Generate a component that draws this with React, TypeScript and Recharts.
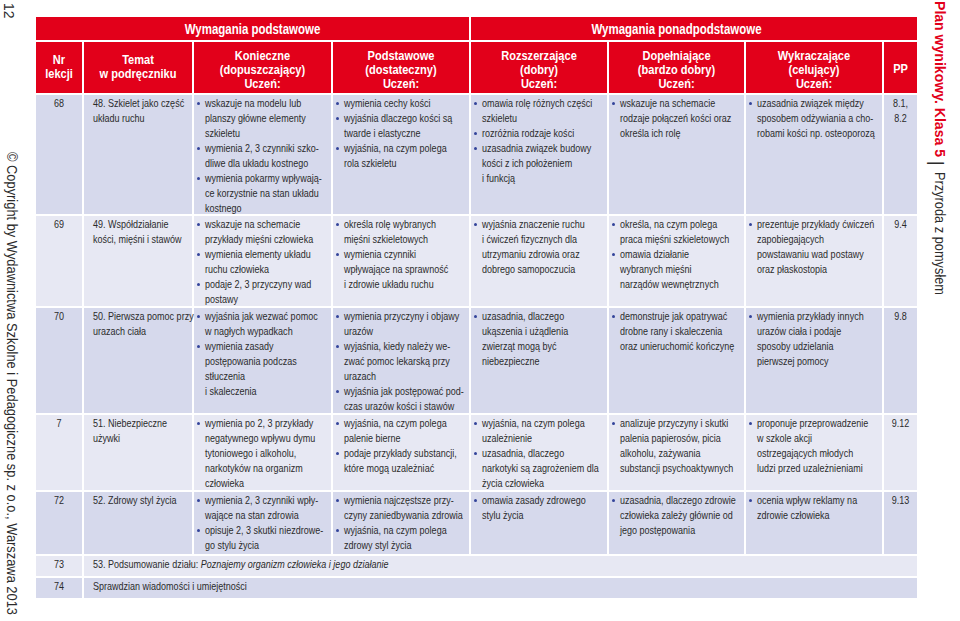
import React from "react";
import { ComposedChart, XAxis, YAxis, Scatter, ReferenceArea } from "recharts";

// ---- table content ----
const groupHeaders = ["Wymagania podstawowe", "Wymagania ponadpodstawowe"];
const columnHeaders = [
  ["Nr", "lekcji"],
  ["Temat", "w podręczniku"],
  ["Konieczne", "(dopuszczający)", "Uczeń:"],
  ["Podstawowe", "(dostateczny)", "Uczeń:"],
  ["Rozszerzające", "(dobry)", "Uczeń:"],
  ["Dopełniające", "(bardzo dobry)", "Uczeń:"],
  ["Wykraczające", "(celujący)", "Uczeń:"],
  ["PP"],
];
const lessonNumbers = ["68", "69", "70", "7", "72"];
const topics = [
  "48. Szkielet jako część\nukładu ruchu",
  "49. Współdziałanie\nkości, mięśni i stawów",
  "50. Pierwsza pomoc przy\nurazach ciała",
  "51. Niebezpieczne\nużywki",
  "52. Zdrowy styl życia",
];
const konieczne = [
  ["wskazuje na modelu lub\nplanszy główne elementy\nszkieletu", "wymienia 2, 3 czynniki szko-\ndliwe dla układu kostnego", "wymienia pokarmy wpływają-\nce korzystnie na stan układu\nkostnego"],
  ["wskazuje na schemacie\nprzykłady mięśni człowieka", "wymienia elementy układu\nruchu człowieka", "podaje 2, 3 przyczyny wad\npostawy"],
  ["wyjaśnia jak wezwać pomoc\nw nagłych wypadkach", "wymienia zasady\npostępowania podczas\nstłuczenia\ni skaleczenia"],
  ["wymienia po 2, 3 przykłady\nnegatywnego wpływu dymu\ntytoniowego i alkoholu,\nnarkotyków na organizm\nczłowieka"],
  ["wymienia 2, 3 czynniki wpły-\nwające na stan zdrowia", "opisuje 2, 3 skutki niezdrowe-\ngo stylu życia"],
];
const podstawowe = [
  ["wymienia cechy kości", "wyjaśnia dlaczego kości są\ntwarde i elastyczne", "wyjaśnia, na czym polega\nrola szkieletu"],
  ["określa rolę wybranych\nmięśni szkieletowych", "wymienia czynniki\nwpływające na sprawność\ni zdrowie układu ruchu"],
  ["wymienia przyczyny i objawy\nurazów", "wyjaśnia, kiedy należy we-\nzwać pomoc lekarską przy\nurazach", "wyjaśnia jak postępować pod-\nczas urazów kości i stawów"],
  ["wyjaśnia, na czym polega\npalenie bierne", "podaje przykłady substancji,\nktóre mogą uzależniać"],
  ["wymienia najczęstsze przy-\nczyny zaniedbywania zdrowia", "wyjaśnia, na czym polega\nzdrowy styl życia"],
];
const rozszerzajace = [
  ["omawia rolę różnych części\nszkieletu", "rozróżnia rodzaje kości", "uzasadnia związek budowy\nkości z ich położeniem\ni funkcją"],
  ["wyjaśnia znaczenie ruchu\ni ćwiczeń fizycznych dla\nutrzymaniu zdrowia oraz\ndobrego samopoczucia"],
  ["uzasadnia, dlaczego\nukąszenia i użądlenia\nzwierząt mogą być\nniebezpieczne"],
  ["wyjaśnia, na czym polega\nuzależnienie", "uzasadnia, dlaczego\nnarkotyki są zagrożeniem dla\nżycia człowieka"],
  ["omawia zasady zdrowego\nstylu życia"],
];
const dopelniajace = [
  ["wskazuje na schemacie\nrodzaje połączeń kości oraz\nokreśla ich rolę"],
  ["określa, na czym polega\npraca mięśni szkieletowych", "omawia działanie\nwybranych mięśni\nnarządów wewnętrznych"],
  ["demonstruje jak opatrywać\ndrobne rany i skaleczenia\noraz unieruchomić kończynę"],
  ["analizuje przyczyny i skutki\npalenia papierosów, picia\nalkoholu, zażywania\nsubstancji psychoaktywnych"],
  ["uzasadnia, dlaczego zdrowie\nczłowieka zależy głównie od\njego postępowania"],
];
const wykraczajace = [
  ["uzasadnia związek między\nsposobem odżywiania a cho-\nrobami kości np. osteoporozą"],
  ["prezentuje przykłady ćwiczeń\nzapobiegających\npowstawaniu wad postawy\noraz płaskostopia"],
  ["wymienia przykłady innych\nurazów ciała i podaje\nsposoby udzielania\npierwszej pomocy"],
  ["proponuje przeprowadzenie\nw szkole akcji\nostrzegających młodych\nludzi przed uzależnieniami"],
  ["ocenia wpływ reklamy na\nzdrowie człowieka"],
];
const ppCodes = ["8.1,\n8.2", "9.4", "9.8", "9.12", "9.13"];
const summaryNumbers = ["73", "74"];
const summaryTexts = ["53. Podsumowanie działu: ", "Sprawdzian wiadomości i umiejętności"];
const summaryItalics = ["Poznajemy organizm człowieka i jego działanie", ""];
const pageNumber = "12";
const copyright = "© Copyright by Wydawnictwa Szkolne i Pedagogiczne sp. z o.o., Warszawa 2013";
const runningTitle = "Plan wynikowy. Klasa 5";
const runningSubtitle = "Przyroda z pomysłem";

// ---- layout (page pixels) ----
const W = 960;
const H = 621;
const COLS = [35, 83, 193, 332, 470, 608, 745, 883, 918];
const HEAD = [16, 41, 94];
const ROWS = [94, 215, 307, 414, 491, 555, 577, 599];
const RED = "#e2001a";
const ROW_FILL = ["#d6d9ec", "#e7e8f3"];
const INK = "#2b2b2b";
const BULLET = "#33449a";
const FONT = "'Liberation Sans', Arial, Helvetica, sans-serif";
const SQUEEZE = 0.82;

type Item = {
  x: number; y: number; lines: string[]; bullets?: boolean[];
  anchor?: "start" | "middle"; size?: number; weight?: string | number; fill?: string;
  lh?: number; squeeze?: number; italic?: string; rotate?: boolean; fit?: number;
};

type Box = { x1: number; x2: number; y1: number; y2: number; fill: string };

const bulletLines = (list: string[]) => {
  const lines: string[] = [];
  const bullets: boolean[] = [];
  list.forEach((s) => s.split("\n").forEach((l, j) => { lines.push(l); bullets.push(j === 0); }));
  return { lines, bullets };
};

const boxes: Box[] = [];
const items: Item[] = [];

// header
boxes.push({ x1: COLS[0], x2: COLS[4], y1: HEAD[0], y2: HEAD[1], fill: RED });
boxes.push({ x1: COLS[4], x2: COLS[8], y1: HEAD[0], y2: HEAD[1], fill: RED });
items.push({ x: (COLS[0] + COLS[4]) / 2, y: 34, lines: [groupHeaders[0]], anchor: "middle", size: 14, weight: "bold", fill: "#fff" });
items.push({ x: (COLS[4] + COLS[7]) / 2, y: 34, lines: [groupHeaders[1]], anchor: "middle", size: 14, weight: "bold", fill: "#fff" });
columnHeaders.forEach((h, c) => {
  boxes.push({ x1: COLS[c], x2: COLS[c + 1], y1: HEAD[1], y2: HEAD[2], fill: RED });
  const y0 = h.length === 3 ? 60 : h.length === 2 ? 64 : 73;
  items.push({ x: (COLS[c] + COLS[c + 1]) / 2, y: y0, lines: h, anchor: "middle", size: 13.5, lh: 14, weight: "bold", fill: "#fff" });
});

// lesson rows
const columnsText = [konieczne, podstawowe, rozszerzajace, dopelniajace, wykraczajace];
lessonNumbers.forEach((nr, r) => {
  const fill = ROW_FILL[r % 2];
  for (let c = 0; c < 8; c++) boxes.push({ x1: COLS[c], x2: COLS[c + 1], y1: ROWS[r], y2: ROWS[r + 1], fill });
  const y = ROWS[r] + 13;
  items.push({ x: (COLS[0] + COLS[1]) / 2, y, lines: [nr], anchor: "middle" });
  items.push({ x: COLS[1] + 10, y, lines: topics[r].split("\n") });
  columnsText.forEach((col, k) => {
    const { lines, bullets } = bulletLines(col[r]);
    items.push({ x: COLS[k + 2] + 12, y, lines, bullets });
  });
  items.push({ x: (COLS[7] + COLS[8]) / 2, y, lines: ppCodes[r].split("\n"), anchor: "middle" });
});

// summary rows
summaryNumbers.forEach((nr, i) => {
  const r = lessonNumbers.length + i;
  const fill = ROW_FILL[r % 2];
  boxes.push({ x1: COLS[0], x2: COLS[1], y1: ROWS[r], y2: ROWS[r + 1], fill });
  boxes.push({ x1: COLS[1], x2: COLS[8], y1: ROWS[r], y2: ROWS[r + 1], fill });
  const y = ROWS[r] + 13;
  items.push({ x: (COLS[0] + COLS[1]) / 2, y, lines: [nr], anchor: "middle" });
  items.push({ x: COLS[1] + 10, y, lines: [summaryTexts[i]], italic: summaryItalics[i] });
});

// margin texts
items.push({ x: 4, y: 3, lines: [pageNumber], rotate: true, size: 14, fill: INK });
items.push({ x: 7, y: 152, lines: [copyright], rotate: true, size: 14, fill: INK, fit: 463 });
items.push({ x: 935, y: 1, lines: [runningTitle], rotate: true, size: 14.5, weight: "bold", fill: RED, fit: 156 });
items.push({ x: 931, y: 161, lines: ["|"], rotate: true, size: 18, fill: INK });
items.push({ x: 935, y: 172, lines: [runningSubtitle], rotate: true, size: 14, fill: INK, fit: 123 });

const drawItem = (props: any) => {
  const { cx, cy, payload } = props;
  const it = payload as Item;
  const size = it.size ?? 11;
  const lh = it.lh ?? 15;
  const sq = it.squeeze ?? SQUEEZE;
  const fill = it.fill ?? INK;
  if (it.rotate) {
    return (
      <text
        transform={`translate(${cx},${cy}) rotate(90)`}
        fontFamily={FONT} fontSize={size} fontWeight={it.weight} fill={fill}
        textLength={it.fit} lengthAdjust={it.fit ? "spacingAndGlyphs" : undefined}
      >
        {it.lines[0]}
      </text>
    );
  }
  return (
    <g>
      {it.lines.map((ln, i) => (
        <g key={i} transform={`translate(${cx},${cy + i * lh})`}>
          {it.bullets?.[i] && <circle cx={-6.5} cy={-3.6} r={1.5} fill={BULLET} />}
          <text
            transform={`scale(${sq},1)`}
            textAnchor={it.anchor ?? "start"}
            fontFamily={FONT} fontSize={size} fontWeight={it.weight} fill={fill}
          >
            {ln}
            {it.italic && i === it.lines.length - 1 ? <tspan fontStyle="italic">{it.italic}</tspan> : null}
          </text>
        </g>
      ))}
    </g>
  );
};

export default function App() {
  return (
    <div style={{ position: "absolute", left: 0, top: 0, width: W, height: H, background: "#fff" }}>
      <ComposedChart width={W} height={H} margin={{ top: 0, right: 0, bottom: 0, left: 0 }}>
        <XAxis type="number" dataKey="x" domain={[0, W]} allowDataOverflow hide />
        <YAxis type="number" dataKey="y" domain={[0, H]} allowDataOverflow reversed hide />
        {boxes.map((b, i) => (
          <ReferenceArea
            key={i} x1={b.x1} x2={b.x2} y1={b.y1} y2={b.y2}
            fill={b.fill} fillOpacity={1} stroke="#fff" strokeWidth={2} ifOverflow="visible"
          />
        ))}
        <Scatter data={items} shape={drawItem} isAnimationActive={false} legendType="none" />
      </ComposedChart>
    </div>
  );
}
